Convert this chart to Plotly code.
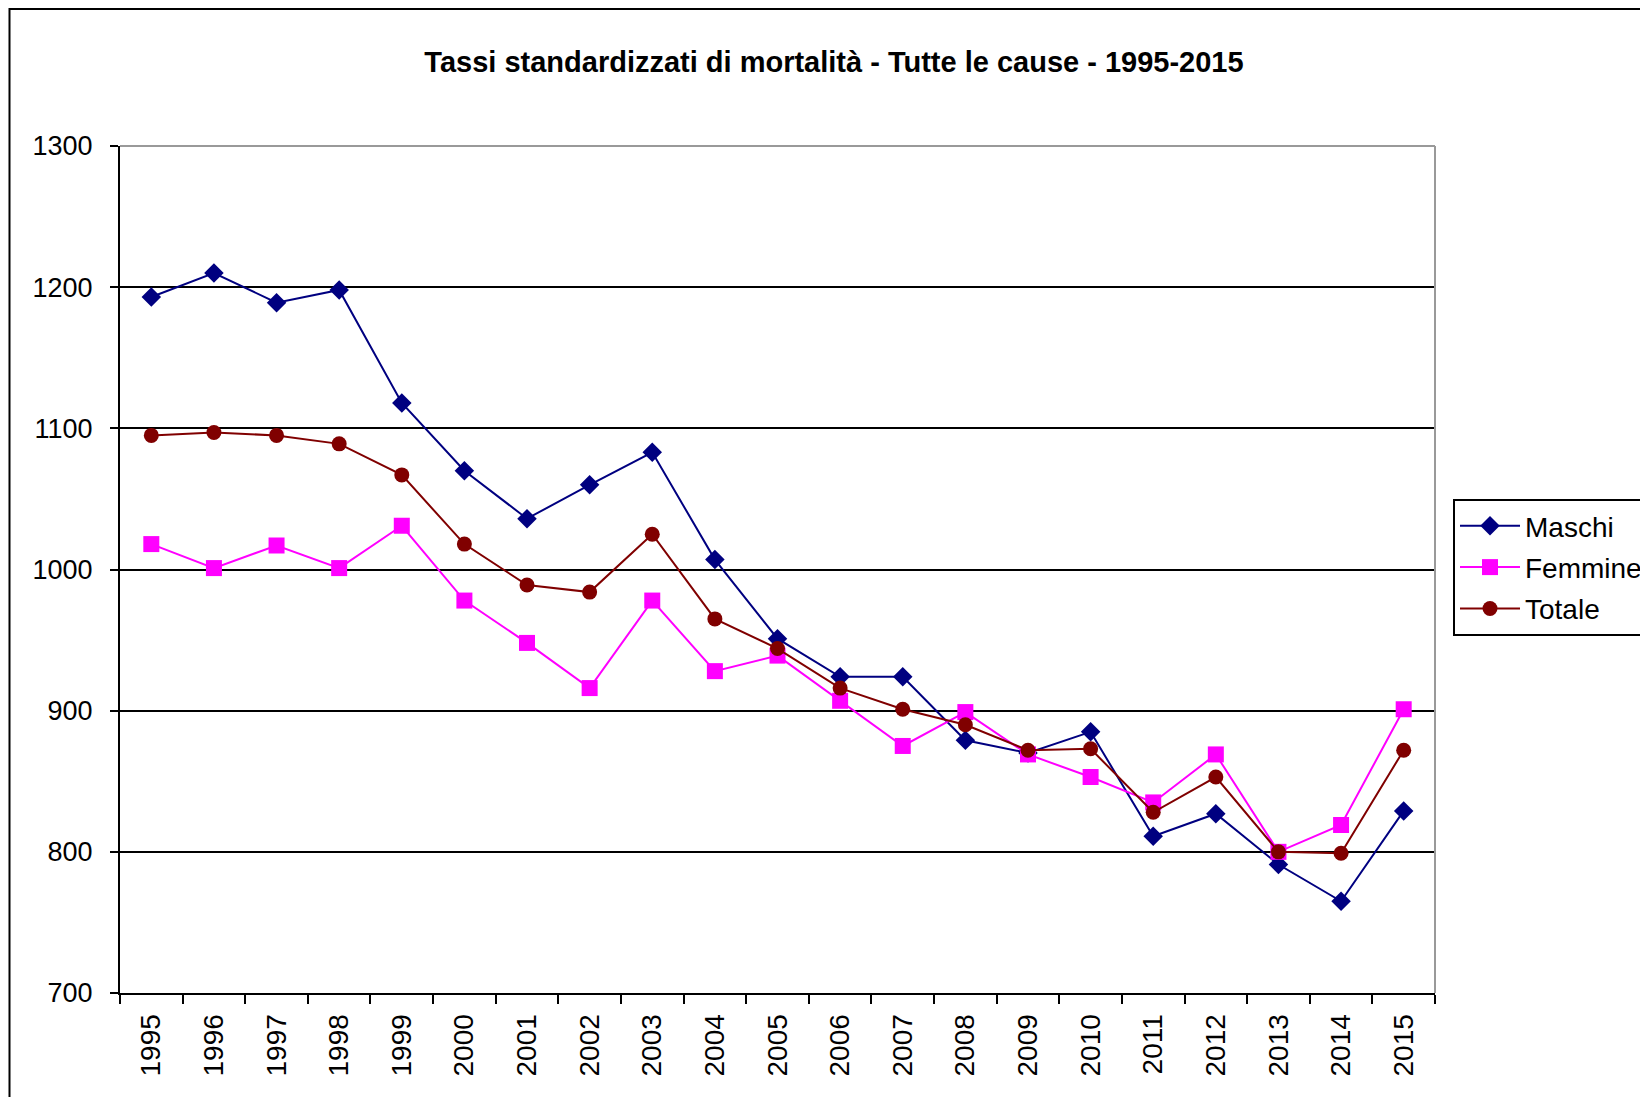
import plotly.graph_objects as go

years = [str(y) for y in range(1995, 2016)]

maschi = [1193, 1210, 1189, 1198, 1118, 1070, 1036, 1060, 1083, 1007,
          951, 924, 924, 879, 870, 885, 811, 827, 791, 765, 829]
femmine = [1018, 1001, 1017, 1001, 1031, 978, 948, 916, 978, 928,
           939, 907, 875, 899, 869, 853, 835, 869, 800, 819, 901]
totale = [1095, 1097, 1095, 1089, 1067, 1018, 989, 984, 1025, 965,
          944, 916, 901, 890, 872, 873, 828, 853, 800, 799, 872]

title_text = "Tassi standardizzati di mortalità - Tutte le cause - 1995-2015"
FONT = "Liberation Sans, Arial, sans-serif"

fig = go.Figure()
fig.add_trace(go.Scatter(x=years, y=maschi, name="Maschi", mode="lines+markers",
                         legendgroup="m",
                         line=dict(color="#000080", width=2),
                         marker=dict(symbol="diamond", size=15, color="#000080")))
fig.add_trace(go.Scatter(x=years, y=femmine, name="Femmine", mode="lines+markers",
                         legendgroup="f",
                         line=dict(color="#FF00FF", width=2),
                         marker=dict(symbol="square", size=16, color="#FF00FF")))
fig.add_trace(go.Scatter(x=years, y=totale, name="Totale", mode="lines+markers",
                         legendgroup="t",
                         line=dict(color="#800000", width=2),
                         marker=dict(symbol="circle", size=15, color="#800000")))

# page body has an 8px margin; work in page coordinates and subtract it
O = 8
W, H = 1640, 1089
L, R, T, B = 120 - O, 1435 - O, 146 - O, 993 - O

fig.update_layout(
    width=W, height=H,
    margin=dict(l=L, r=W - R, t=T, b=H - B, pad=0, autoexpand=False),
    paper_bgcolor="white", plot_bgcolor="white",
    font=dict(family=FONT, color="black", size=27),
    title=dict(text="<b>" + title_text + "</b>", x=(834 - O) / W, xanchor="center",
               y=1 - (62 - O) / H, yanchor="middle", xref="container", yref="container",
               font=dict(family=FONT, size=29, color="black")),
    xaxis=dict(type="category", range=[-0.5, 20.5], tickson="boundaries",
               ticks="outside", ticklen=9, tickwidth=2, tickcolor="black",
               showline=True, linecolor="black", linewidth=2,
               showgrid=False, tickangle=-90, ticklabelstandoff=8,
               tickfont=dict(family=FONT, size=28, color="black")),
    yaxis=dict(range=[700, 1300], dtick=100, tick0=700,
               ticks="outside", ticklen=8, tickwidth=2, tickcolor="black",
               showline=True, linecolor="black", linewidth=2,
               showgrid=True, gridcolor="black", gridwidth=2,
               zeroline=False, ticklabelstandoff=12,
               tickfont=dict(family=FONT, size=27, color="black")),
    legend=dict(xref="container", yref="container",
                x=(1453 - O) / W, xanchor="left",
                y=1 - (499 - O) / H, yanchor="top",
                bordercolor="black", borderwidth=2, bgcolor="white",
                font=dict(family=FONT, size=28, color="black"),
                itemwidth=60, tracegroupgap=2),
    showlegend=True,
)

# plot area top/right border (gray)
fig.add_shape(type="line", xref="paper", yref="paper", x0=0, x1=1, y0=1, y1=1,
              line=dict(color="#999999", width=2), layer="above")
fig.add_shape(type="line", xref="paper", yref="paper", x0=1, x1=1, y0=0, y1=1,
              line=dict(color="#999999", width=2), layer="above")
# outer chart border
fig.add_shape(type="rect", xref="paper", yref="paper",
              x0=(9.5 - 120) / (1435 - 120), x1=2.0,
              y0=-1.0, y1=1 + (146 - 9) / (993 - 146),
              line=dict(color="black", width=2), layer="above")

fig.write_html("out.html",
               post_script="document.body.style.overflow='hidden';"
                           "document.documentElement.style.overflow='hidden';")
